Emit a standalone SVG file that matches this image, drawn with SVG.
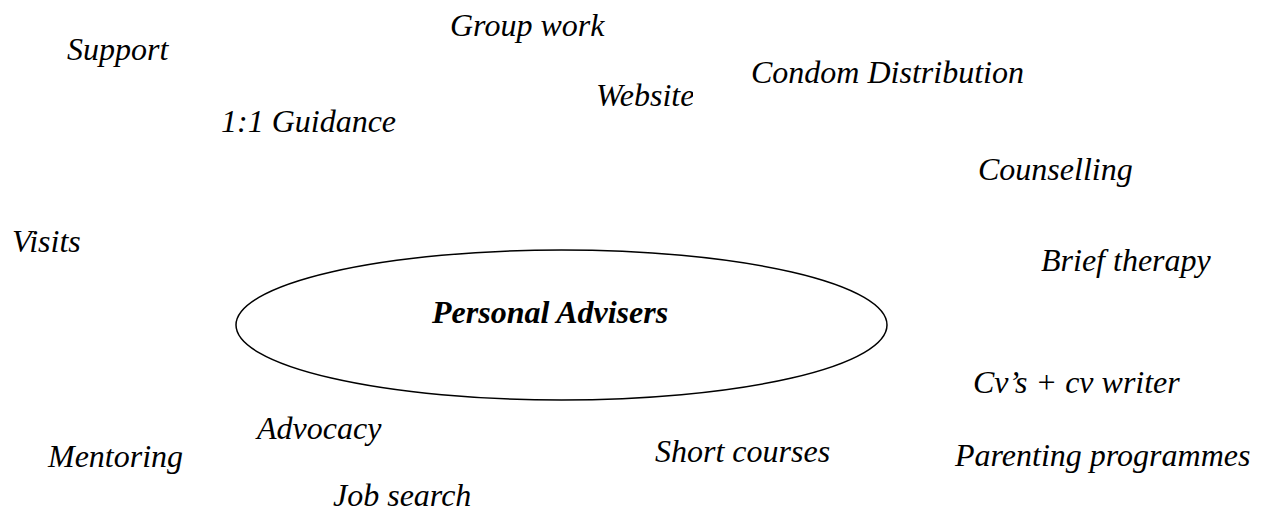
<svg xmlns="http://www.w3.org/2000/svg" width="1266" height="513" viewBox="0 0 1266 513">
<style>
text{font-family:"Liberation Serif","Times New Roman",serif;font-style:italic;font-size:32px;fill:#000}
.b{font-weight:bold}
</style>
<defs><clipPath id="wc"><rect x="500" y="60" width="193" height="70"/></clipPath></defs>
<rect width="1266" height="513" fill="#fff"/>
<g id="center"><ellipse cx="561.5" cy="325" rx="325.5" ry="75" fill="none" stroke="#000" stroke-width="1.5"/><text class="b" x="432" y="323">Personal Advisers</text></g>
<g id="support"><text x="67" y="60">Support</text></g>
<g id="groupwork"><text x="450" y="36">Group work</text></g>
<g id="condom"><text x="751" y="83">Condom Distribution</text></g>
<g id="website" clip-path="url(#wc)"><text x="596" y="106">Website</text></g>
<g id="guidance"><text x="221" y="132">1:1 Guidance</text></g>
<g id="counselling"><text x="978" y="180">Counselling</text></g>
<g id="visits"><text x="12" y="252">Visits</text></g>
<g id="brief"><text x="1041" y="271">Brief therapy</text></g>
<g id="cv"><text x="973" y="393">Cv’s + cv writer</text></g>
<g id="advocacy"><text x="257" y="439">Advocacy</text></g>
<g id="mentoring"><text x="48" y="467">Mentoring</text></g>
<g id="short"><text x="655" y="462">Short courses</text></g>
<g id="parenting"><text x="955" y="466">Parenting programmes</text></g>
<g id="jobsearch"><text x="333" y="506">Job search</text></g>
<g id="connectors"/>
</svg>
